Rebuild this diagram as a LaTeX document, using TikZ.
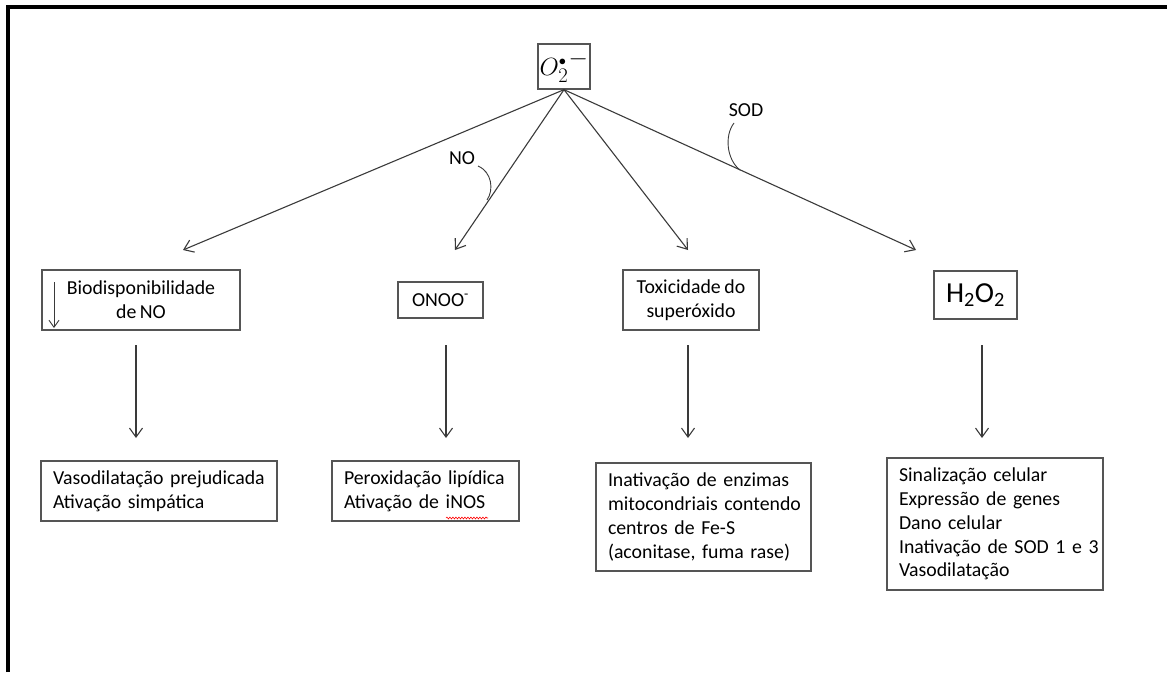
\documentclass[tikz,border=0pt]{standalone}
\usepackage{fontspec}
\setmainfont{Carlito}[WordSpace=0.8]
\usetikzlibrary{arrows.meta,decorations.pathmorphing}
\definecolor{boxgray}{HTML}{555555}
\definecolor{linegray}{HTML}{3A3A3A}
\newcommand{\oneline}[1]{\mbox{#1}}
\begin{document}
\begin{tikzpicture}[x=1pt,y=-1pt,
  txt/.style={font=\fontsize{19.8}{23.8}\selectfont},
  box/.style={draw=boxgray, line width=1.3pt, inner sep=0pt, txt},
  listbox/.style={box, align=left, inner xsep=12pt},
  arr/.style={draw=linegray, line width=1.1pt, -{Straight Barb[length=9pt,width=13pt]}},
  hook/.style={draw=linegray, line width=0.9pt}]
\useasboundingbox (0,0) rectangle (1167,672);
% frame (top and left edges)
\draw[line width=3.2pt] (8,672) -- (8,7) -- (1167,7);

% superoxide
\node[box, minimum width=52pt, minimum height=45pt, font=\fontsize{29}{30}\selectfont] (o2) at (564,66.5) {$O_2^{\scriptscriptstyle\bullet\,\textstyle -}$};

% first row
\node[box, minimum width=198pt, minimum height=60pt, align=center] (bio) at (141,300) {Biodisponibilidade\\de NO};
\node[box, minimum width=85pt, minimum height=36pt] (onoo) at (440.5,300) {ONOO\textsuperscript{-}};
\node[box, minimum width=136pt, minimum height=60pt, align=center] (tox) at (691,300) {Toxicidade do\\superóxido};
\node[box, minimum width=83pt, minimum height=48pt, font=\fontsize{29}{30}\selectfont] (h2o2) at (975.5,295) {H\textsubscript{2}O\textsubscript{2}};

% second row
\node[listbox, text width=212pt, minimum height=60pt] (vaso) at (159,491) {\oneline{Vasodilatação prejudicada}\\\oneline{Ativação simpática}};
\node[listbox, text width=163pt, minimum height=60pt] (perox) at (425.5,491) {\oneline{Peroxidação lipídica}\\\oneline{Ativação de iNOS}};
\node[listbox, text width=191pt, minimum height=108pt] (inat) at (703.5,517) {\oneline{Inativação de enzimas}\\\oneline{mitocondriais contendo}\\\oneline{centros de Fe-S}\\\oneline{(aconitase, fuma rase)}};
\node[listbox, text width=192pt, minimum height=132pt] (sinal) at (995,524) {\oneline{Sinalização celular}\\\oneline{Expressão de genes}\\\oneline{Dano celular}\\\oneline{Inativação de SOD 1 e 3}\\\oneline{Vasodilatação}};

% arrow heads of the fan
\coordinate (t1) at (183,250);
\coordinate (t2) at (455,250);
\coordinate (t3) at (688,250);
\coordinate (t4) at (916,250);
\draw[arr] (o2.south) -- (t1);
\draw[arr] (o2.south) -- (t2);
\draw[arr] (o2.south) -- (t3);
\draw[arr] (o2.south) -- (t4);

% reagent labels
\node[txt] (no) at (462,158) {NO};
\node[txt] (sod) at (746,110) {SOD};
\coordinate (nohit) at (487,200);
\coordinate (sodhit) at (740,170);
\draw[hook] (478,166) .. controls (492,172) and (494,190) .. (nohit);
\draw[hook] (734,123) .. controls (724,136) and (727,160) .. (sodhit);

% decreased NO marker inside the box
\coordinate (dn1) at (54,282);
\coordinate (dn2) at (54,328);
\draw[draw=linegray, line width=0.9pt, -{Straight Barb[length=7pt,width=10pt]}] (dn1) -- (dn2);

% vertical arrows
\coordinate (a1) at (136,345); \coordinate (b1) at (136,438);
\coordinate (a2) at (446,345); \coordinate (b2) at (446,438);
\coordinate (a3) at (688,345); \coordinate (b3) at (688,438);
\coordinate (a4) at (982,345); \coordinate (b4) at (982,438);
\draw[arr] (a1) -- (b1);
\draw[arr] (a2) -- (b2);
\draw[arr] (a3) -- (b3);
\draw[arr] (a4) -- (b4);

% spell-check underline
\draw[red, line width=0.6pt, decorate, decoration={snake, amplitude=0.9pt, segment length=3pt}] (446,518) -- (488,518);
\end{tikzpicture}
\end{document}
